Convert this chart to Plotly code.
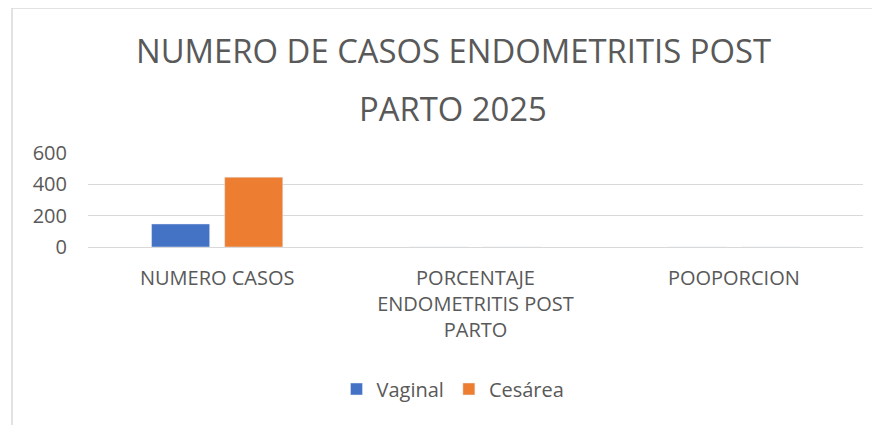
import plotly.graph_objects as go

categories = ["NUMERO CASOS", "PORCENTAJE ENDOMETRITIS POST PARTO", "POOPORCION"]
tick_labels = ["NUMERO CASOS", "PORCENTAJE<br>ENDOMETRITIS POST<br>PARTO", "POOPORCION"]
vaginal = [147, 0, 0]
cesarea = [446, 0, 0]
title_lines = ["NUMERO DE CASOS ENDOMETRITIS POST", "PARTO 2025"]

FONT = "Open Sans"
GREY = "#595959"
GRID = "#d9d9d9"

OFF = 8  # page offset of the figure
W, H = 880, 425
L, R, T, B = 88 - OFF, W - (863 - OFF), 153 - OFF, H - (247 - OFF)
pw, ph = W - L - R, H - T - B

def px(x):
    return (x - OFF - L) / pw

def py(y):
    return (H - B - (y - OFF)) / ph

fig = go.Figure()
fig.add_trace(go.Bar(name="Vaginal", x=categories, y=vaginal, marker_color="#4472C4"))
fig.add_trace(go.Bar(name="Cesárea", x=categories, y=cesarea, marker_color="#ED7D31"))

fig.update_layout(
    width=W, height=H,
    margin=dict(l=L, r=R, t=T, b=B, autoexpand=False),
    paper_bgcolor="white", plot_bgcolor="white",
    barmode="group", bargap=0.434, bargroupgap=0.205,
    font=dict(family=FONT, color=GREY, size=18),
    showlegend=True,
    legend=dict(orientation="h", x=px(453), xanchor="center", y=py(389), yanchor="middle",
                font=dict(size=20, color=GREY, family=FONT), itemclick=False),
    shapes=[dict(type="rect", xref="paper", yref="paper", x0=px(12), x1=px(1000),
                 y0=py(8), y1=py(600), line=dict(color=GRID, width=1.5), fillcolor="rgba(0,0,0,0)")],
    annotations=[
        dict(text=title_lines[0], xref="paper", yref="paper", x=px(453), y=py(50),
             xanchor="center", yanchor="middle", showarrow=False, font=dict(size=32.8, color=GREY, family=FONT)),
        dict(text=title_lines[1], xref="paper", yref="paper", x=px(453), y=py(108),
             xanchor="center", yanchor="middle", showarrow=False, font=dict(size=32.8, color=GREY, family=FONT)),
    ],
)
fig.update_xaxes(tickmode="array", tickvals=categories, ticktext=tick_labels,
                 showline=True, linecolor=GRID, linewidth=1, showgrid=False,
                 tickfont=dict(size=20, color=GREY, family=FONT), ticks="", ticklabelstandoff=13)
fig.update_yaxes(range=[0, 600], tickvals=[0, 200, 400, 600], showgrid=True, gridcolor=GRID, gridwidth=1,
                 zeroline=False, showline=False, ticks="",
                 tickfont=dict(size=20, color=GREY, family=FONT), ticklabelstandoff=20)

fig.write_html("out.html")
